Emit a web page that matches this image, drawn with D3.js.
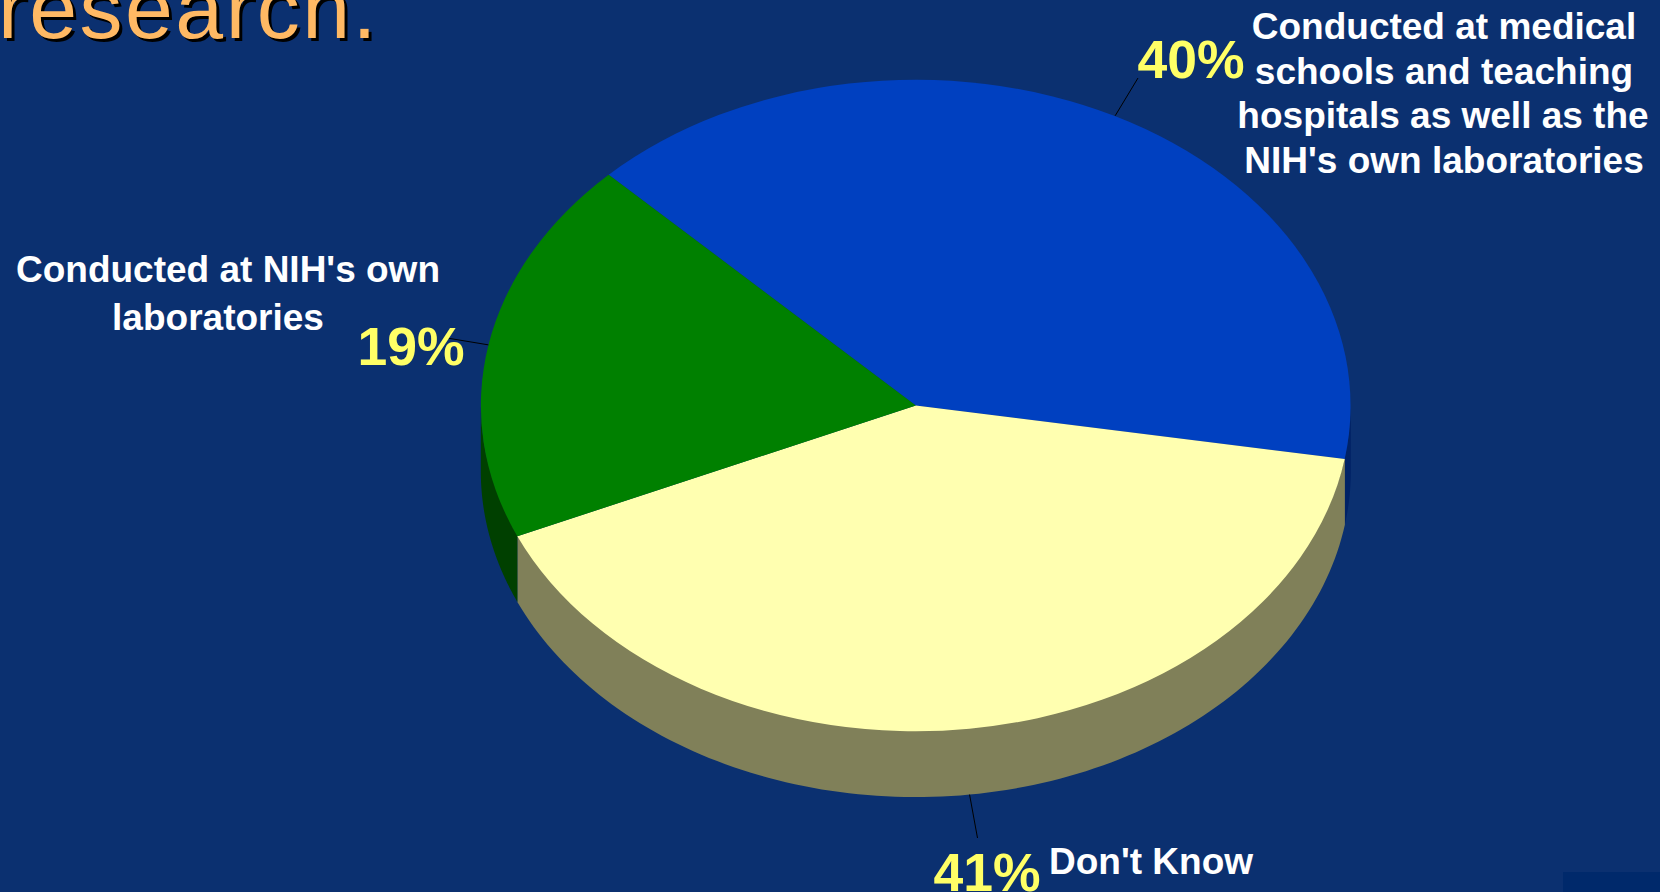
<!DOCTYPE html>
<html>
<head>
<meta charset="utf-8">
<script src="https://cdn.jsdelivr.net/npm/d3@7"></script>
<style>
    body { margin: 0; background: #0b3070; overflow: hidden; }
    text { font-family: "Liberation Sans", Arial, sans-serif; }
</style>
</head>
<body>
<svg id="drawing_region"></svg>
<script>
const categories = ['Conducted at medical schools and teaching hospitals as well as the NIH\'s own laboratories', 'Don\'t Know', 'Conducted at NIH\'s own laboratories'];
const values = [40.1, 40.8, 19.1];
const percentLabels = ['40%', '41%', '19%'];
const categoryLines = [
    ['Conducted at medical', 'schools and teaching', 'hospitals as well as the', 'NIH\'s own laboratories'],
    ['Don\'t Know'],
    ['Conducted at NIH\'s own', 'laboratories']
];

const topColors = ['#0040c0', '#ffffb0', '#008000'];
const sideColors = ['#002266', '#808059', '#004000'];

const width = 1660, height = 892;
const pieConfig = { cx: 915.8, cy: 405.5, rx: 435, ry: 326, depth: 65.6, start: 315.1 * Math.PI / 180 };

// where the text goes, one entry per slice
const percentLayout = [
    { x: 1191, y: 78, leader: [1138, 78] },
    { x: 987, y: 891, leader: [977.5, 838] },
    { x: 411, y: 365, leader: [447, 338] }
];
const lineLayout = [
    [{ x: 1444, y: 39 }, { x: 1444, y: 84 }, { x: 1443, y: 128 }, { x: 1444, y: 173 }],
    [{ x: 1151, y: 874 }],
    [{ x: 228, y: 282 }, { x: 218, y: 330 }]
];

const svg = d3.select('#drawing_region')
    .attr('width', width)
    .attr('height', height);

svg.append('rect')
    .attr('width', width).attr('height', height)
    .attr('fill', '#0b3070');

svg.append('rect')
    .attr('x', 1563).attr('y', 872)
    .attr('width', 97).attr('height', 20)
    .attr('fill', '#00296b');

// title, cut off by the top of the slide
const title = svg.append('g')
    .attr('font-size', 86)
    .attr('letter-spacing', 2.5);
title.append('text')
    .attr('x', 1).attr('y', 41)
    .attr('fill', '#000')
    .text('research.');
title.append('text')
    .attr('x', -2).attr('y', 38)
    .attr('fill', '#ffb964')
    .text('research.');

const pie = d3.pie()
    .sort(null)
    .startAngle(pieConfig.start)
    .endAngle(pieConfig.start + 2 * Math.PI);
const slices = pie(values);

// arcs are drawn on a unit circle and squashed to the ellipse
const xScale = d3.scaleLinear().domain([-1, 1]).range([pieConfig.cx - pieConfig.rx, pieConfig.cx + pieConfig.rx]);
const yScale = d3.scaleLinear().domain([-1, 1]).range([pieConfig.cy - pieConfig.ry, pieConfig.cy + pieConfig.ry]);
const rimX = a => xScale(Math.sin(a));
const rimY = a => yScale(-Math.cos(a));

const arc = d3.arc().innerRadius(0).outerRadius(1);

// side wall: only the front half of the rim can be seen.
// its upper edge runs 2px up under the top so no seam shows
const frontFrom = 2.5 * Math.PI, frontTo = 3.5 * Math.PI;
function sidePath(d) {
    const a0 = Math.max(d.startAngle, frontFrom);
    const a1 = Math.min(d.endAngle, frontTo);
    if (a1 <= a0) return null;
    const steps = d3.range(0, 121).map(i => a0 + (a1 - a0) * i / 120);
    const upper = steps.map(a => [rimX(a), rimY(a) - 2]);
    const lower = steps.slice().reverse().map(a => [rimX(a), rimY(a) + pieConfig.depth]);
    return d3.line()(upper.concat(lower)) + 'Z';
}

svg.append('g').selectAll('path')
    .data(slices)
    .join('path')
    .attr('d', sidePath)
    .attr('fill', (d, i) => sideColors[i]);

svg.append('g')
    .attr('transform', `translate(${pieConfig.cx},${pieConfig.cy}) scale(${pieConfig.rx},${pieConfig.ry})`)
    .selectAll('path')
    .data(slices)
    .join('path')
    .attr('d', arc)
    .attr('fill', (d, i) => topColors[i]);

// leader lines start at the middle of each slice's outer edge
svg.append('g').selectAll('line')
    .data(slices)
    .join('line')
    .attr('x1', d => rimX((d.startAngle + d.endAngle) / 2))
    .attr('y1', d => {
        const mid = (d.startAngle + d.endAngle) / 2;
        return rimY(mid) + (Math.cos(mid) < 0 && Math.abs(Math.sin(mid)) < 0.5 ? pieConfig.depth : 0);
    })
    .attr('x2', (d, i) => percentLayout[i].leader[0])
    .attr('y2', (d, i) => percentLayout[i].leader[1])
    .attr('stroke', '#000')
    .attr('stroke-width', 1);

svg.append('g').selectAll('text')
    .data(percentLabels)
    .join('text')
    .attr('x', (d, i) => percentLayout[i].x)
    .attr('y', (d, i) => percentLayout[i].y)
    .attr('text-anchor', 'middle')
    .attr('font-size', 53.5)
    .attr('font-weight', 'bold')
    .attr('fill', '#ffff66')
    .text(d => d);

categoryLines.forEach((lines, i) => {
    svg.append('g').selectAll('text')
        .data(lines)
        .join('text')
        .attr('x', (d, j) => lineLayout[i][j].x)
        .attr('y', (d, j) => lineLayout[i][j].y)
        .attr('text-anchor', 'middle')
        .attr('font-size', 37)
        .attr('font-weight', 'bold')
        .attr('fill', '#fff')
        .text(d => d);
});
</script>
</body>
</html>
